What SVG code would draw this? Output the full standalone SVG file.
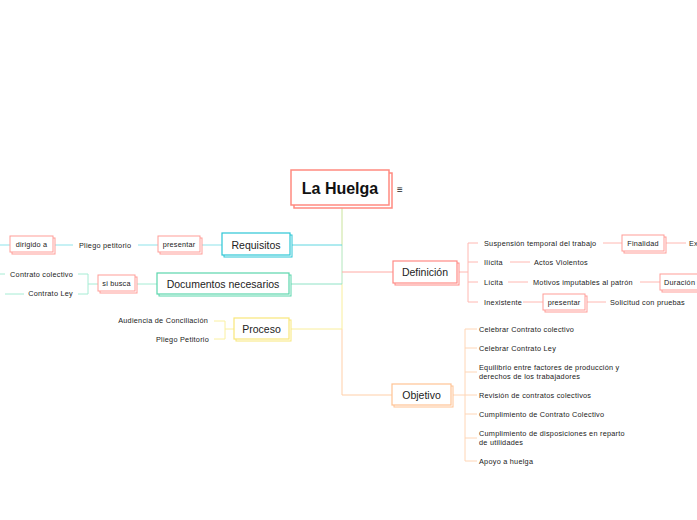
<svg xmlns="http://www.w3.org/2000/svg" width="697" height="520" viewBox="0 0 697 520">
<style>
text{font-family:"Liberation Sans",Arial,sans-serif;fill:#222;dominant-baseline:central}
.s{font-size:7.3px;letter-spacing:0.25px}
.m{font-size:10.5px;text-anchor:middle}
.b{font-size:7.3px;letter-spacing:0.2px;text-anchor:middle}
.pk{stroke:#ff9d98;stroke-width:1;fill:#fff}
.ln{fill:none;stroke-width:1}
</style>
<rect width="697" height="520" fill="#fff"/>
<g id="connectors">
  <path class="ln" stroke="#c9e39c" d="M342 205V245"/>
  <path class="ln" stroke="#b2e6bc" d="M342 245V284"/>
  <path class="ln" stroke="#f9ee9c" d="M342 284V329"/>
  <path class="ln" stroke="#ffcfa8" d="M342 329V395"/>
  <path class="ln" stroke="#5ed6e0" d="M290 245H342"/>
  <path class="ln" stroke="#8fe2c6" d="M289 284H342"/>
  <path class="ln" stroke="#f9ee9c" d="M289 329H342"/>
  <path class="ln" stroke="#ffaaa4" d="M342 272H393"/>
  <path class="ln" stroke="#ffcfa8" d="M342 395H392"/>
  <path class="ln" stroke="#8fe3ea" d="M200 245H222M138 245H158M53 245H73M0 245H10"/>
  <path class="ln" stroke="#a6ecd4" d="M135 284H157M98 284H88M88 274V294M78 274H88M78 294H88M0 274H5M5 294H24"/>
  <path class="ln" stroke="#faf0a0" d="M234 329H225M225 321V339M214 321H225M214 339H225"/>
  <path class="ln" stroke="#ffb8b2" d="M457 272H468M468 243V302M468 243H478M468 262H478M468 282H478M468 302H478M603 243H622M666 243H686M510 262H530M508 282H528M640 282H660M523 302H543M587 302H606"/>
  <path class="ln" stroke="#ffd6b6" d="M451 395H465M465 329V461M465 329H477M465 348H477M465 372H477M465 395H477M465 414H477M465 438H477M465 461H477"/>
</g>
<g id="n-root">
  <rect x="294" y="173" width="98" height="35" fill="#fff" stroke="#ff8a80" stroke-width="1.5"/>
  <rect x="291" y="170" width="98" height="35" fill="#fff" stroke="#ff8a80" stroke-width="1.5"/>
  <text x="340" y="188" style="font-size:16px;font-weight:bold;text-anchor:middle;fill:#111">La Huelga</text>
  <text x="400" y="189" style="font-size:10px;text-anchor:middle">≡</text>
</g>
<g id="n-requisitos">
  <rect x="224" y="235" width="68" height="22" fill="#fff" stroke="#2cc6d6"/>
  <rect x="222" y="233" width="68" height="22" fill="#fff" stroke="#2cc6d6" stroke-width="1.2"/>
  <text class="m" x="256" y="244.5">Requisitos</text>
</g>
<g id="n-presentar1">
  <rect x="160" y="238" width="42" height="16" class="pk"/>
  <rect x="158" y="236" width="42" height="16" class="pk"/>
  <text class="b" x="179" y="244.5">presentar</text>
</g>
<g id="n-pliego1"><text class="s" x="79" y="245">Pliego petitorio</text></g>
<g id="n-dirigido">
  <rect x="12" y="238" width="43" height="16" class="pk"/>
  <rect x="10" y="236" width="43" height="16" class="pk"/>
  <text class="b" x="31.5" y="244.5">dirigido a</text>
</g>
<g id="n-documentos">
  <rect x="159" y="275" width="132" height="21" fill="#fff" stroke="#5ad6ac"/>
  <rect x="157" y="273" width="132" height="21" fill="#fff" stroke="#5ad6ac" stroke-width="1.2"/>
  <text class="m" x="223" y="283.5">Documentos necesarios</text>
</g>
<g id="n-sibusca">
  <rect x="100" y="277" width="37" height="16" class="pk"/>
  <rect x="98" y="275" width="37" height="16" class="pk"/>
  <text class="b" x="116.5" y="283.5">si busca</text>
</g>
<g id="n-cc"><text class="s" x="73" y="274" text-anchor="end">Contrato colectivo</text></g>
<g id="n-cl"><text class="s" x="73" y="293.5" text-anchor="end">Contrato Ley</text></g>
<g id="n-proceso">
  <rect x="236" y="320" width="55" height="21" fill="#fff" stroke="#f8e77a"/>
  <rect x="234" y="318" width="55" height="21" fill="#fff" stroke="#f8e77a" stroke-width="1.2"/>
  <text class="m" x="261.5" y="328.5">Proceso</text>
</g>
<g id="n-audiencia"><text class="s" x="208" y="320.5" text-anchor="end">Audiencia de Conciliación</text></g>
<g id="n-pliego2"><text class="s" x="209" y="339" text-anchor="end">Pliego Petitorio</text></g>
<g id="n-definicion">
  <rect x="395" y="263" width="64" height="22" fill="#fff" stroke="#ff8a85"/>
  <rect x="393" y="261" width="64" height="22" fill="#fff" stroke="#ff8a85" stroke-width="1.2"/>
  <text class="m" x="425" y="272">Definición</text>
</g>
<g id="n-suspension"><text class="s" x="484" y="243">Suspensión temporal del trabajo</text></g>
<g id="n-finalidad">
  <rect x="624" y="237" width="42" height="16" class="pk"/>
  <rect x="622" y="235" width="42" height="16" class="pk"/>
  <text class="b" x="643" y="243">Finalidad</text>
</g>
<g id="n-ex"><text class="s" x="689" y="243">Ex</text></g>
<g id="n-ilicita"><text class="s" x="484" y="262">Ilícita</text></g>
<g id="n-actos"><text class="s" x="534" y="262">Actos Violentos</text></g>
<g id="n-licita"><text class="s" x="484" y="282">Lícita</text></g>
<g id="n-motivos"><text class="s" x="533" y="282">Motivos imputables al patrón</text></g>
<g id="n-duracion">
  <rect x="662" y="276" width="42" height="16" class="pk"/>
  <rect x="660" y="274" width="42" height="16" class="pk"/>
  <text class="s" x="664" y="282">Duración</text>
</g>
<g id="n-inexistente"><text class="s" x="484" y="302">Inexistente</text></g>
<g id="n-presentar2">
  <rect x="545" y="296" width="42" height="16" class="pk"/>
  <rect x="543" y="294" width="42" height="16" class="pk"/>
  <text class="b" x="564" y="302">presentar</text>
</g>
<g id="n-solicitud"><text class="s" x="610" y="302">Solicitud con pruebas</text></g>
<g id="n-objetivo">
  <rect x="394" y="386" width="59" height="21" fill="#fff" stroke="#ffc394"/>
  <rect x="392" y="384" width="59" height="21" fill="#fff" stroke="#ffc394" stroke-width="1.2"/>
  <text class="m" x="421.5" y="394.5">Objetivo</text>
</g>
<g id="n-o1"><text class="s" x="479" y="329">Celebrar Contrato colectivo</text></g>
<g id="n-o2"><text class="s" x="479" y="348">Celebrar Contrato Ley</text></g>
<g id="n-o3"><text class="s" x="479" y="367">Equilibrio entre factores de producción y</text><text class="s" x="479" y="376">derechos de los trabajadores</text></g>
<g id="n-o4"><text class="s" x="479" y="395">Revisión de contratos colectivos</text></g>
<g id="n-o5"><text class="s" x="479" y="414">Cumplimiento de Contrato Colectivo</text></g>
<g id="n-o6"><text class="s" x="479" y="433">Cumplimiento de disposiciones en reparto</text><text class="s" x="479" y="442">de utilidades</text></g>
<g id="n-o7"><text class="s" x="479" y="461">Apoyo a huelga</text></g>
</svg>
